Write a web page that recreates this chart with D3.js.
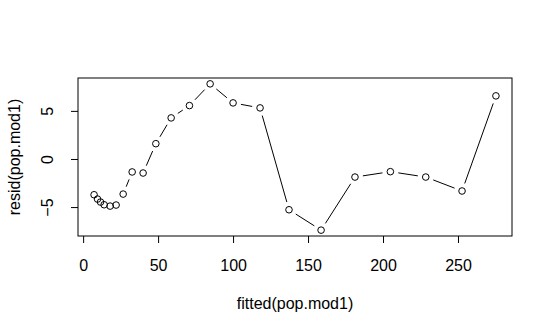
<!DOCTYPE html>
<html>
<head>
<meta charset="UTF-8" />
<script src="https://d3js.org/d3.v7.min.js"></script>
<title>Residuals vs fitted</title>
<style>
  body { margin: 0; background: #fff; }
  text { font-family: "Liberation Sans", Arial, sans-serif; fill: #000; }
</style>
</head>
<body>
<script type="text/javascript">

// values
var fittedVals = [7.3, 9.6, 11.6, 14.0, 18.0, 22.0, 26.7, 32.7, 40.0, 48.5, 58.7,
                  70.9, 84.7, 100.0, 118.0, 137.3, 158.7, 181.3, 204.9, 228.5, 252.7, 275.3];
var residVals = [-3.72, -4.17, -4.48, -4.76, -4.90, -4.79, -3.65, -1.35, -1.46, 1.59, 4.27,
                 5.55, 7.81, 5.83, 5.31, -5.28, -7.40, -1.88, -1.32, -1.88, -3.33, 6.56];
var xTicks = [0, 50, 100, 150, 200, 250];
var yTicks = [-5, 0, 5];

var W = 553, H = 334;
var box = {left: 78, right: 512, top: 78, bottom: 236};

// R style 4% padding of the data range
function padded(vals) {
  var e = d3.extent(vals), d = (e[1] - e[0]) * 0.04;
  return [e[0] - d, e[1] + d];
}

var x = d3.scaleLinear().domain(padded(fittedVals)).range([box.left, box.right]);
var y = d3.scaleLinear().domain(padded(residVals)).range([box.bottom, box.top]);

var svg = d3.select("body").append("svg")
    .attr("width", W)
    .attr("height", H);

svg.append("rect").attr("width", W).attr("height", H).attr("fill", "#fff");

//X axis
var gx = svg.append("g")
    .attr("transform", "translate(0," + box.bottom + ")")
    .call(d3.axisBottom(x).tickValues(xTicks).tickSize(7).tickSizeOuter(0).tickPadding(16.3));
gx.select(".domain").remove();
gx.selectAll("text").style("font-size", "16px").attr("fill", "#000");

//Y axis, labels turned like R does
var gy = svg.append("g")
    .attr("transform", "translate(" + box.left + ",0)")
    .call(d3.axisLeft(y).tickValues(yTicks).tickSize(7).tickSizeOuter(0).tickFormat(d3.format("d")));
gy.select(".domain").remove();
gy.selectAll("text")
    .style("font-size", "16px")
    .attr("fill", "#000")
    .attr("text-anchor", "middle")
    .attr("transform", "rotate(-90)")
    .attr("x", 0)
    .attr("y", -24.7)
    .attr("dy", 0);
svg.selectAll(".tick line").attr("stroke", "#000");

//plot box
svg.append("rect")
    .attr("x", box.left).attr("y", box.top)
    .attr("width", box.right - box.left).attr("height", box.bottom - box.top)
    .attr("fill", "none").attr("stroke", "#000").attr("stroke-width", 1);

//titles
svg.append("text")
    .attr("x", (box.left + box.right) / 2).attr("y", 309)
    .attr("text-anchor", "middle").style("font-size", "16px")
    .text("fitted(pop.mod1)");
svg.append("text")
    .attr("transform", "translate(20," + (box.top + box.bottom) / 2 + ") rotate(-90)")
    .attr("text-anchor", "middle").style("font-size", "16px")
    .text("resid(pop.mod1)");

//lines with gaps around the points (type = "b")
var gap = 8;
var segs = [];
for (var i = 0; i < fittedVals.length - 1; i++) {
  var x0 = x(fittedVals[i]), y0 = y(residVals[i]),
      x1 = x(fittedVals[i + 1]), y1 = y(residVals[i + 1]);
  var len = Math.hypot(x1 - x0, y1 - y0);
  if (len > 2 * gap) {
    var ux = (x1 - x0) / len, uy = (y1 - y0) / len;
    segs.push([x0 + ux * gap, y0 + uy * gap, x1 - ux * gap, y1 - uy * gap]);
  }
}
svg.append("g").selectAll("line")
    .data(segs)
    .enter().append("line")
    .attr("x1", function(d) { return d[0]; })
    .attr("y1", function(d) { return d[1]; })
    .attr("x2", function(d) { return d[2]; })
    .attr("y2", function(d) { return d[3]; })
    .attr("stroke", "#000").attr("stroke-width", 1);

//points
svg.append("g").selectAll("circle")
    .data(fittedVals)
    .enter().append("circle")
    .attr("cx", function(d) { return x(d); })
    .attr("cy", function(d, i) { return y(residVals[i]); })
    .attr("r", 3.3)
    .attr("fill", "none")
    .attr("stroke", "#000").attr("stroke-width", 1);

</script>
</body>
</html>
